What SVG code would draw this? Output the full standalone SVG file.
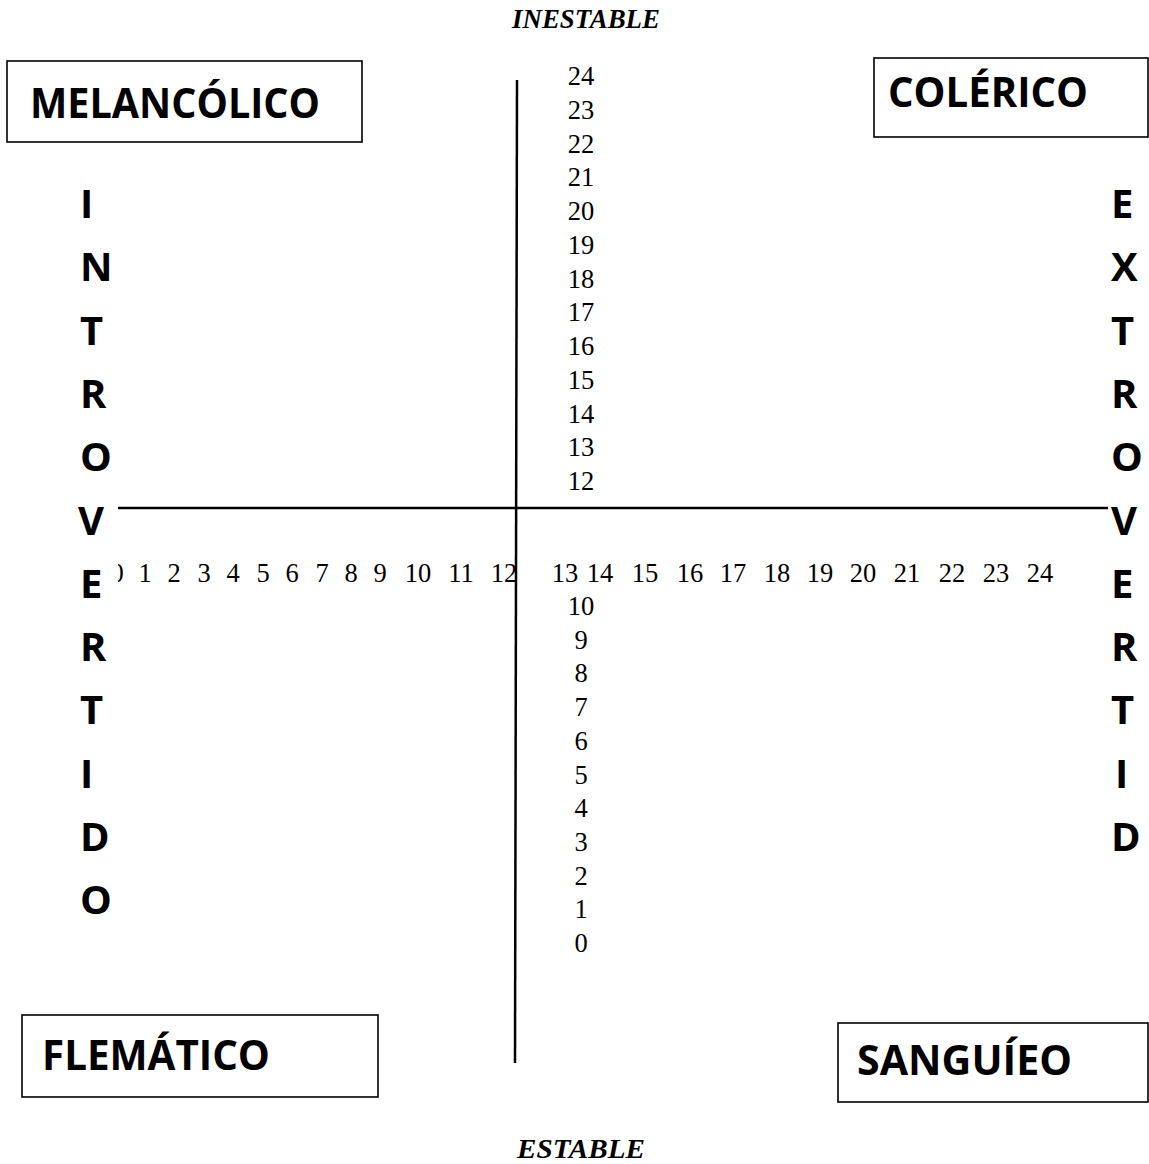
<svg xmlns="http://www.w3.org/2000/svg" width="1149" height="1164" viewBox="0 0 1149 1164">
<style>
.box{fill:#fff;stroke:#000;stroke-width:1.6}
.lbl{font-family:"Open Sans",Lato,"Liberation Sans",sans-serif;font-weight:bold;font-size:41px;fill:#000}
.let{font-family:"Open Sans",Lato,"Liberation Sans",sans-serif;font-weight:bold;font-size:40px;fill:#000}
.num{font-family:"Liberation Serif","Times New Roman",serif;font-size:26.5px;fill:#000;text-anchor:middle}
.ttl{font-family:"Liberation Serif","Times New Roman",serif;font-size:28px;font-weight:bold;font-style:italic;fill:#000}
.axis{stroke:#000;stroke-width:2.5;fill:none}
</style>
<defs>
<clipPath id="clip0"><rect x="118" y="540" width="40" height="60"/></clipPath>
</defs>
<text class="ttl" x="512" y="28" textLength="148" lengthAdjust="spacingAndGlyphs">INESTABLE</text>
<text class="ttl" x="517" y="1158" textLength="128" lengthAdjust="spacingAndGlyphs">ESTABLE</text>
<g id="connectors">
<line class="axis" x1="517" y1="80" x2="515" y2="1063"/>
<line class="axis" x1="118" y1="508" x2="1108" y2="508"/>
</g>
<g id="melancolico">
<rect class="box" x="7" y="61" width="355" height="81"/>
<text class="lbl" x="30" y="118" textLength="290" lengthAdjust="spacingAndGlyphs">MELANCÓLICO</text>
</g>
<g id="colerico">
<rect class="box" x="874" y="58" width="274" height="79"/>
<text class="lbl" x="888" y="107" textLength="200" lengthAdjust="spacingAndGlyphs">COLÉRICO</text>
</g>
<g id="flematico">
<rect class="box" x="22" y="1015" width="356" height="82"/>
<text class="lbl" x="42" y="1070" textLength="228" lengthAdjust="spacingAndGlyphs">FLEMÁTICO</text>
</g>
<g id="sanguineo">
<rect class="box" x="838" y="1023" width="310" height="79"/>
<text class="lbl" x="857" y="1075" textLength="215" lengthAdjust="spacingAndGlyphs">SANGUÍEO</text>
</g>
<g id="introvertido">
<text class="let" x="80" y="218">I</text>
<text class="let" x="80" y="281">N</text>
<text class="let" x="80" y="345">T</text>
<text class="let" x="80" y="408">R</text>
<text class="let" x="80" y="471">O</text>
<text class="let" x="78" y="535">V</text>
<text class="let" x="80" y="598">E</text>
<text class="let" x="80" y="661">R</text>
<text class="let" x="80" y="724">T</text>
<text class="let" x="80" y="788">I</text>
<text class="let" x="80" y="851">D</text>
<text class="let" x="80" y="914">O</text>
</g>
<g id="extrovertid">
<text class="let" x="1111" y="218">E</text>
<text class="let" x="1111" y="281">X</text>
<text class="let" x="1111" y="345">T</text>
<text class="let" x="1111" y="408">R</text>
<text class="let" x="1111" y="471">O</text>
<text class="let" x="1111" y="535">V</text>
<text class="let" x="1111" y="598">E</text>
<text class="let" x="1111" y="661">R</text>
<text class="let" x="1111" y="724">T</text>
<text class="let" x="1115" y="788">I</text>
<text class="let" x="1111" y="851">D</text>
</g>
<g id="scale-upper">
<text class="num" x="581" y="85">24</text>
<text class="num" x="581" y="118.7">23</text>
<text class="num" x="581" y="152.5">22</text>
<text class="num" x="581" y="186.2">21</text>
<text class="num" x="581" y="220">20</text>
<text class="num" x="581" y="253.7">19</text>
<text class="num" x="581" y="287.5">18</text>
<text class="num" x="581" y="321.2">17</text>
<text class="num" x="581" y="355">16</text>
<text class="num" x="581" y="388.7">15</text>
<text class="num" x="581" y="422.5">14</text>
<text class="num" x="581" y="456.2">13</text>
<text class="num" x="581" y="490">12</text>
</g>
<g id="scale-lower">
<text class="num" x="581" y="615">10</text>
<text class="num" x="581" y="648.7">9</text>
<text class="num" x="581" y="682.4">8</text>
<text class="num" x="581" y="716.1">7</text>
<text class="num" x="581" y="749.8">6</text>
<text class="num" x="581" y="783.5">5</text>
<text class="num" x="581" y="817.2">4</text>
<text class="num" x="581" y="850.9">3</text>
<text class="num" x="581" y="884.6">2</text>
<text class="num" x="581" y="918.3">1</text>
<text class="num" x="581" y="952">0</text>
</g>
<g id="scale-horizontal">
<text class="num" x="117" y="582" clip-path="url(#clip0)">0</text>
<text class="num" x="145" y="582">1</text>
<text class="num" x="174" y="582">2</text>
<text class="num" x="204" y="582">3</text>
<text class="num" x="233" y="582">4</text>
<text class="num" x="263" y="582">5</text>
<text class="num" x="292" y="582">6</text>
<text class="num" x="322" y="582">7</text>
<text class="num" x="351" y="582">8</text>
<text class="num" x="380" y="582">9</text>
<text class="num" x="418" y="582">10</text>
<text class="num" x="461" y="582">11</text>
<text class="num" x="504" y="582">12</text>
<text class="num" x="565" y="582">13</text>
<text class="num" x="600" y="582">14</text>
<text class="num" x="645" y="582">15</text>
<text class="num" x="690" y="582">16</text>
<text class="num" x="733" y="582">17</text>
<text class="num" x="777" y="582">18</text>
<text class="num" x="820" y="582">19</text>
<text class="num" x="863" y="582">20</text>
<text class="num" x="907" y="582">21</text>
<text class="num" x="952" y="582">22</text>
<text class="num" x="996" y="582">23</text>
<text class="num" x="1040" y="582">24</text>
</g>
</svg>
